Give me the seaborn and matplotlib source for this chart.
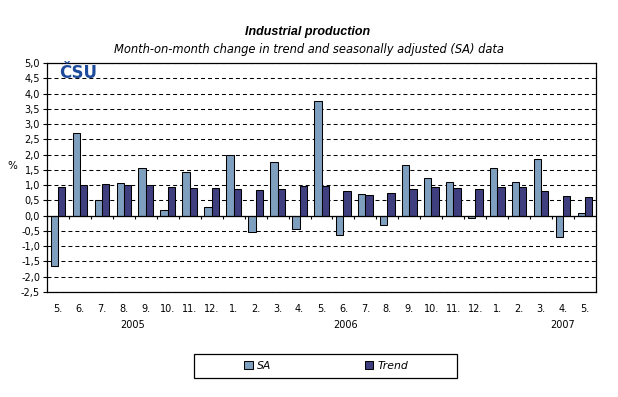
import matplotlib
matplotlib.use("Agg")
import matplotlib.pyplot as plt
import matplotlib.transforms as mtransforms
from matplotlib.patches import Rectangle
import seaborn as sns
import pandas as pd

# Data (month-on-month change, %)
periods = ["2005-05", "2005-06", "2005-07", "2005-08", "2005-09", "2005-10", "2005-11", "2005-12",
           "2006-01", "2006-02", "2006-03", "2006-04", "2006-05", "2006-06", "2006-07", "2006-08",
           "2006-09", "2006-10", "2006-11", "2006-12", "2007-01", "2007-02", "2007-03", "2007-04",
           "2007-05"]
month_labels = ["5.", "6.", "7.", "8.", "9.", "10.", "11.", "12.",
                "1.", "2.", "3.", "4.", "5.", "6.", "7.", "8.", "9.", "10.", "11.", "12.",
                "1.", "2.", "3.", "4.", "5."]
sa = [-1.65, 2.70, 0.50, 1.07, 1.56, 0.17, 1.43, 0.28,
      1.98, -0.54, 1.75, -0.44, 3.75, -0.64, 0.70, -0.31, 1.66, 1.23, 1.10, -0.08,
      1.56, 1.10, 1.84, -0.70, 0.08]
trend = [0.93, 1.00, 1.03, 1.00, 1.00, 0.93, 0.90, 0.90,
         0.86, 0.84, 0.86, 0.97, 0.98, 0.82, 0.69, 0.74, 0.87, 0.93, 0.90, 0.87,
         0.93, 0.93, 0.80, 0.64, 0.61]
years = ["2005", "2006", "2007"]
year_pos = [3.4, 13.1, 23.0]
y_ticks = [-2.5, -2.0, -1.5, -1.0, -0.5, 0.0, 0.5, 1.0, 1.5, 2.0, 2.5, 3.0, 3.5, 4.0, 4.5, 5.0]

df = pd.DataFrame({
    "period": periods * 2,
    "value": sa + trend,
    "series": ["SA"] * len(sa) + ["Trend"] * len(trend),
})

sns.set_theme(style="white")
plt.rcParams["font.family"] = ["DejaVu Sans"]
plt.rcParams["text.color"] = "black"
plt.rcParams["xtick.color"] = "black"
plt.rcParams["ytick.color"] = "black"
plt.rcParams["axes.labelcolor"] = "black"

fig = plt.figure(figsize=(6.18, 3.97), dpi=100)
ax = fig.add_axes([47 / 618, 1 - 292 / 397, 549 / 618, 229 / 397])

palette = {"SA": "#7f9fbf", "Trend": "#3f3f80"}
sns.barplot(data=df, x="period", y="value", hue="series", order=periods,
            palette=palette, width=0.67, edgecolor="black", linewidth=0.75,
            saturation=1, ax=ax)

handles, labels = ax.get_legend_handles_labels()
ax.get_legend().remove()

ax.set_ylim(-2.5, 5.0)
ax.set_xlim(-0.5, len(periods) - 0.5)
ax.set_yticks(y_ticks)
ax.set_yticklabels([f"{v:.1f}".replace(".", ",") for v in y_ticks], fontsize=7)
ax.set_xticks(range(len(periods)))
ax.set_xticklabels(month_labels, fontsize=7)
ax.tick_params(axis="x", length=0, pad=9, labelcolor="black")
ax.tick_params(axis="y", length=3, width=0.8, direction="out", left=True, pad=2,
               color="black", labelcolor="black")
ax.set_xlabel("")
ax.set_ylabel("")

# dashed gridlines, solid zero line with category ticks
ax.yaxis.grid(True, color="black", linestyle=(0, (3.8, 2.9)), linewidth=0.75)
ax.set_axisbelow(True)
ax.axhline(0, color="black", linewidth=0.9, zorder=3)
ax.vlines([i + 0.5 for i in range(len(periods) - 1)], -0.1, 0, color="black",
          linewidth=0.8, zorder=3)

for sp in ax.spines.values():
    sp.set_color("black")
    sp.set_linewidth(0.9)

# year labels under the months
trans = mtransforms.blended_transform_factory(ax.transData, fig.transFigure)
for yr, pos in zip(years, year_pos):
    ax.text(pos, 1 - 325 / 397, yr, transform=trans, ha="center", va="center",
            fontsize=7, color="black")

fig.text(12 / 618, 1 - 166 / 397, "%", ha="center", va="center", fontsize=7.5, color="black")

# titles
fig.text(0.4976, 1 - 32.3 / 397, "Industrial production", ha="center", va="center",
         fontsize=9, fontweight="bold", fontstyle="italic", family=["Liberation Sans"],
         color="black")
fig.text(0.5, 1 - 49.3 / 397, "Month-on-month change in trend and seasonally adjusted (SA) data",
         ha="center", va="center", fontsize=8.3, fontstyle="italic", color="black")

# logo
fig.text(59 / 618, 1 - 73.5 / 397, "ČSU", ha="left", va="center", fontsize=12,
         fontweight="black", color="#1e4b9b")

# legend
fig.patches.append(Rectangle((194 / 618, 1 - 378 / 397), 263 / 618, 24 / 397,
                             transform=fig.transFigure, fill=False, edgecolor="black",
                             linewidth=0.9))
for h in handles:
    h.set_edgecolor("black")
    h.set_linewidth(0.75)
leg = fig.legend(handles, labels, loc="center", bbox_to_anchor=(0.528, 1 - 366 / 397),
                 ncol=2, frameon=False, columnspacing=8.6, handlelength=0.8,
                 handleheight=0.8, handletextpad=0.4, labelcolor="black",
                 prop={"size": 7.8, "style": "italic"})

fig.savefig("out.png", dpi=100)
